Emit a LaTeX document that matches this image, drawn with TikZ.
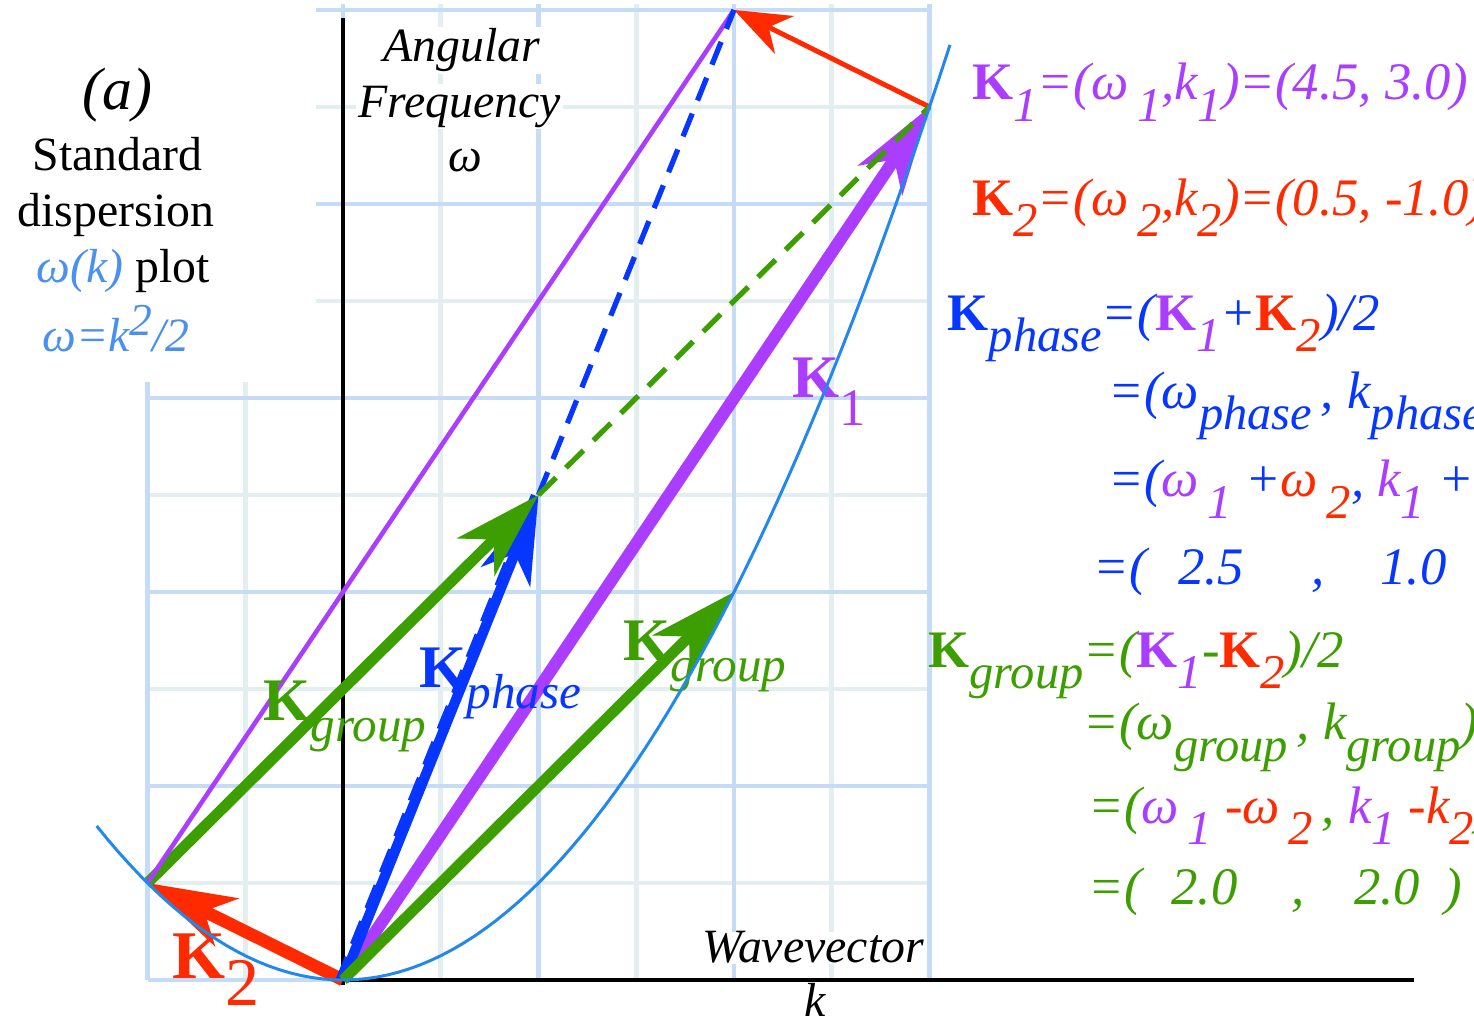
\documentclass[tikz,border=0pt]{standalone}
\usepackage{fontspec}
\setmainfont{Liberation Serif}
\usepackage{xcolor}
\usetikzlibrary{arrows.meta}

\definecolor{kone}{HTML}{AA3DFF}
\definecolor{ktwo}{HTML}{FF2A00}
\definecolor{kphase}{HTML}{0636FF}
\definecolor{kgroup}{HTML}{3C9E00}
\definecolor{curve}{HTML}{2288EE}
\definecolor{curvetxt}{HTML}{4A90F0}
\definecolor{gridmaj}{HTML}{C6DCF6}
\definecolor{gridmin}{HTML}{E3EEF0}

% bold vector letter and the low subscripts
\newcommand{\Kb}{\textbf{\upshape K}}
\newcommand{\lo}[1]{\raisebox{-6pt}{\fontsize{13.8}{13.8}\selectfont\itshape #1}}
\newcommand{\pl}[1]{\raisebox{-6.2pt}{\fontsize{14}{14}\selectfont\itshape #1}}

\tikzset{
  gridfine/.style={gridmin, line width=1.3pt},
  gridmain/.style={gridmaj, line width=1.3pt},
  axisline/.style={line width=1pt},
  bighead/.style={-{Stealth[length=25pt,width=15pt,inset=7pt]}},
  smallhead/.style={-{Stealth[length=16pt,width=12pt,inset=5pt]}},
  dashline/.style={line width=1.5pt, dash pattern=on 7pt off 4pt},
  eqn/.style={anchor=base west, inner sep=0pt, font=\fontsize{15}{15}\selectfont\itshape},
  vlbl/.style={anchor=base west, inner sep=0pt, font=\fontsize{17.2}{17.2}\selectfont},
  txt/.style={anchor=base, inner sep=0pt, font=\fontsize{13.6}{13.6}\selectfont},
  axtxt/.style={anchor=base, inner sep=0.5pt, fill=white, font=\fontsize{13.6}{13.6}\selectfont\itshape},
}

\begin{document}
\begin{tikzpicture}[x=1.955cm, y=1.94cm]
  \useasboundingbox (-1.7545,-0.2371) rectangle (5.7852,5.0515);
  \clip (-1.7545,-0.2371) rectangle (5.7852,5.0515);

  % grid
  \foreach \k in {-1,-0.5} {
    \draw[gridfine] (\k,0) -- (\k,3.08);
  }
  \foreach \k in {0,0.5,...,3} {
    \draw[gridfine] (\k,0) -- (\k,5.03);
  }
  \foreach \w in {0,0.5,...,3} {
    \draw[gridfine] (-1,\w) -- (3,\w);
  }
  \foreach \w in {3.5,4,4.5,5} {
    \draw[gridfine] (-0.14,\w) -- (3,\w);
  }
  \draw[gridmain] (-1,0) -- (-1,3.08);
  \foreach \k in {0,1,2,3} {
    \draw[gridmain] (\k,0) -- (\k,5.03);
  }
  \foreach \w in {0,1,2,3} {
    \draw[gridmain] (-1,\w) -- (3,\w);
  }
  \foreach \w in {4,5} {
    \draw[gridmain] (-0.14,\w) -- (3,\w);
  }

  % axes
  \draw[axisline] (0,-0.025) -- (0,4.96);
  \draw[axisline] (0,0) -- (5.48,0);

  \coordinate (O) at (0,0);
  \coordinate (K1) at (3,4.5);
  \coordinate (K2) at (-1,0.5);
  \coordinate (Kp) at (1,2.5);
  \coordinate (Kg) at (2,2);
  \coordinate (Ks) at (2,5);

  % vectors
  \draw[kone, line width=3.5pt, bighead] (O) -- (K1);
  \draw[ktwo, line width=3.6pt, bighead] (O) -- (K2);
  \draw[kphase, dashline] ([xshift=-1.4pt]O) -- ([xshift=-1.4pt]Kp);
  \draw[kphase, line width=2.9pt, bighead] (O) -- (Kp);
  \draw[kgroup, line width=3.1pt, bighead] (K2) -- (Kp);
  \draw[kgroup, line width=3.1pt, bighead] (O) -- (Kg);
  \draw[kone, line width=1.3pt] (K2) -- (Ks);
  \draw[ktwo, line width=1.4pt, smallhead] (K1) -- (Ks);
  \draw[kphase, dashline] (Kp) -- (Ks);
  \draw[kgroup, dashline] (Kp) -- (K1);

  % labels on the plot
  \node[vlbl, text=kone] (lkone) at (2.297,3.0) {\textbf{K}\raisebox{-7.7pt}{\fontsize{15}{15}\selectfont 1}};
  \node[vlbl, text=kgroup] (lgrpa) at (-0.409,1.34) {\textbf{K}\pl{group}};
  \node[vlbl, text=kphase] (lphase) at (0.389,1.51) {\textbf{K}\pl{phase}};
  \node[vlbl, text=kgroup] (lgrpb) at (1.432,1.649) {\textbf{K}\pl{group}};
  \node[vlbl, text=ktwo, font=\fontsize{19.4}{19.4}\selectfont] (lktwo) at (-0.875,0.01) {\textbf{K}\raisebox{-7.7pt}{2}};

  % dispersion curve
  \draw[curve, line width=0.85pt] plot[domain=-1.26:3.105, samples=80] (\x, {\x*\x/2});

  % axis titles
  \node[axtxt] (angl) at (0.606,4.732) {Angular};
  \node[axtxt] (freq) at (0.596,4.448) {Frequency};
  \node[axtxt] (omeg) at (0.624,4.165) {ω};
  \node[axtxt, inner sep=0pt] (wave) at (2.405,0.0876) {Wavevector};
  \node[axtxt] (kk) at (2.414,-0.19) {k};

  % left caption
  \node[txt, font=\fontsize{17}{17}\selectfont\itshape] (tag) at (-1.1535,4.4845) {(a)};
  \node[txt] (std) at (-1.1535,4.1716) {Standard};
  \node[txt] (disp) at (-1.161,3.883) {dispersion};
  \node[txt] (plt) at (-1.1228,3.593) {\textcolor{curvetxt}{\itshape ω(k)} plot};
  \node[txt, text=curvetxt, font=\fontsize{13.6}{13.6}\selectfont\itshape] (rel) at (-1.161,3.2387) {ω=k\raisebox{4.5pt}{\fontsize{13}{13}\selectfont 2}/2};

  % equations on the right
  \node[eqn, text=kone] (eqa) at (3.217,4.536) {\Kb\lo{1}=(ω\,\lo{1},k\lo{1})=(4.5, 3.0)};
  \node[eqn, text=ktwo] (eqb) at (3.217,3.943) {\Kb\lo{2}=(ω\,\lo{2},k\lo{2})=(0.5, -1.0)};
  \node[eqn, text=kphase] (eqc) at (3.09,3.35) {\Kb\lo{phase}=(\textcolor{kone}{\Kb\lo{1}}+\textcolor{ktwo}{\Kb\lo{2}})/2};
  \node[eqn, text=kphase] (eqd) at (3.913,2.948) {=(ω\lo{phase}\,, k\lo{phase})};
  \node[eqn, text=kphase] (eqe) at (3.913,2.49) {=(\textcolor{kone}{ω\,\lo{1}} +\textcolor{ktwo}{ω\,\lo{2}}, \textcolor{kone}{k\lo{1}} +\textcolor{ktwo}{k\lo{2}})/2};
  \node[eqn, text=kphase] (eqf) at (3.836,2.04) {=(\hspace{9pt}2.5\hspace{19pt},\hspace{16pt}1.0\hspace{9pt})};
  \node[eqn, text=kgroup] (eqg) at (2.992,1.613) {\Kb\lo{group}=(\textcolor{kone}{\Kb\lo{1}}-\textcolor{ktwo}{\Kb\lo{2}})/2};
  \node[eqn, text=kgroup] (eqh) at (3.785,1.237) {=(ω\lo{group}\,, k\lo{group})};
  \node[eqn, text=kgroup] (eqi) at (3.81,0.809) {=(\textcolor{kone}{ω\,\lo{1}} \textcolor{ktwo}{-ω\,\lo{2}}\,, \textcolor{kone}{k\lo{1}} \textcolor{ktwo}{-k\lo{2}})/2};
  \node[eqn, text=kgroup] (eqj) at (3.81,0.387) {=(\hspace{8.5pt}2.0\hspace{15.5pt},\hspace{14pt}2.0\hspace{7pt})};
\end{tikzpicture}
\end{document}
